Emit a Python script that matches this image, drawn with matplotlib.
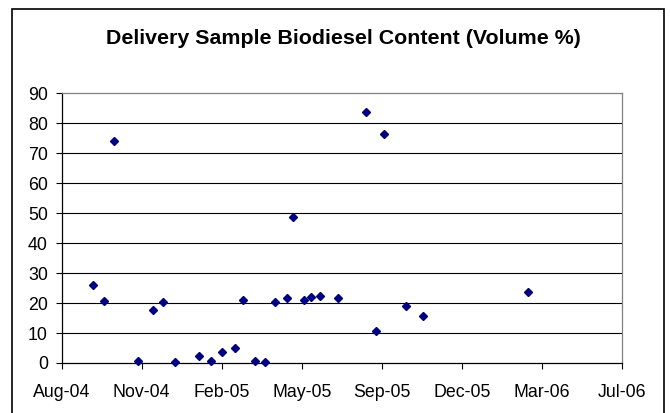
import matplotlib
matplotlib.use("Agg")
import matplotlib.pyplot as plt
import matplotlib.dates as mdates
from matplotlib.patches import Rectangle
from datetime import date, timedelta

# sample dates and biodiesel content (volume %)
dates = ["2004-09-09", "2004-09-23", "2004-10-05", "2004-11-04", "2004-11-23",
         "2004-12-06", "2004-12-21", "2005-01-19", "2005-02-03", "2005-02-17",
         "2005-03-06", "2005-03-16", "2005-03-30", "2005-04-12", "2005-04-25",
         "2005-05-09", "2005-05-17", "2005-05-31", "2005-06-08", "2005-06-20",
         "2005-07-12", "2005-08-16", "2005-08-29", "2005-09-08", "2005-10-05",
         "2005-10-26", "2006-03-07"]
content = [25.9, 20.8, 74.1, 0.8, 17.8,
           20.4, 0.2, 2.2, 0.8, 3.7,
           4.9, 20.9, 0.8, 0.2, 20.4,
           21.6, 48.6, 21.1, 21.9, 22.2,
           21.6, 83.6, 10.6, 76.3, 19.0,
           15.8, 23.8]

x_start = date(2004, 8, 1)
x_step = 100  # days between date ticks
n_ticks = 8
y_ticks = list(range(0, 100, 10))

x = [date.fromisoformat(d) for d in dates]
x_ticks = [x_start + timedelta(days=x_step * i) for i in range(n_ticks)]

plt.rcParams["font.family"] = ["Liberation Sans", "DejaVu Sans"]

fig = plt.figure(figsize=(6.7, 4.13), dpi=100)
fig.patches.append(Rectangle((12 / 670, -0.1), 652 / 670, 1.1 - 8.5 / 413,
                             transform=fig.transFigure, fill=False,
                             edgecolor="black", linewidth=1.2))

ax = fig.add_axes([0.0921, 0.1211, 0.836, 0.653])
ax.set_xlim(x_ticks[0], x_ticks[-1])
ax.set_ylim(0, 90)

for v in y_ticks[1:-1]:
    ax.axhline(v, color="black", linewidth=0.8, zorder=1)

ax.plot(x, content, linestyle="none", marker="D", markersize=4.2,
        color="#000080", markeredgecolor="#000080", zorder=3, clip_on=False)

ax.set_xticks(x_ticks)
ax.xaxis.set_major_formatter(mdates.DateFormatter("%b-%y"))
ax.set_yticks(y_ticks)
ax.tick_params(axis="both", direction="out", length=4, width=0.8,
               labelsize=12.8, color="black")
ax.tick_params(axis="x", pad=11)
ax.tick_params(axis="y", pad=6)

for s in ["left", "bottom"]:
    ax.spines[s].set_color("black")
    ax.spines[s].set_linewidth(0.9)
for s in ["top", "right"]:
    ax.spines[s].set_color("#808080")
    ax.spines[s].set_linewidth(0.9)

fig.text(0.512, 0.907, "Delivery Sample Biodiesel Content (Volume %)",
         ha="center", va="center", fontsize=15.4, fontweight="bold")

fig.savefig("out.png", dpi=100)
